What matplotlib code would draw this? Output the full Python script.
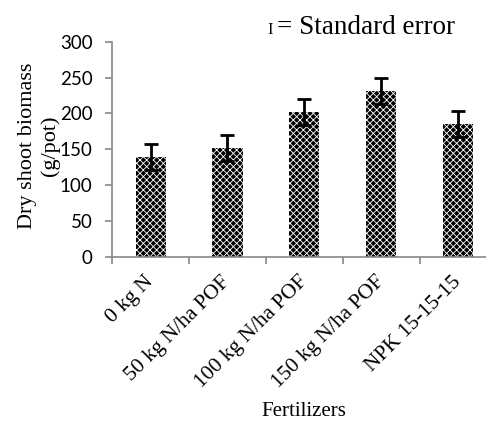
import matplotlib
matplotlib.use("Agg")
import matplotlib.pyplot as plt
import numpy as np

# data
fertilizers = ["0 kg N", "50 kg N/ha POF", "100 kg N/ha POF",
               "150 kg N/ha POF", "NPK 15-15-15"]
biomass = [139, 152, 202, 231, 185]
std_err = [18, 18, 18, 18, 18]
y_ticks = [0, 50, 100, 150, 200, 250, 300]

plt.rcParams["hatch.linewidth"] = 0.6
plt.rcParams["hatch.color"] = "white"

fig = plt.figure(figsize=(4.86, 4.22), dpi=100)
ax = fig.add_axes([0.2305, 0.3917, 0.792, 0.5095])

x = np.arange(len(fertilizers))
ax.bar(x, biomass, width=0.39, color="black", edgecolor="white",
       linewidth=0, hatch="xxxxx")
ax.errorbar(x, biomass, yerr=std_err, fmt="none", ecolor="black",
            elinewidth=2, capsize=5, capthick=2)

ax.set_xlim(-0.5, len(fertilizers) - 0.5)
ax.set_ylim(0, 300)
ax.set_yticks(y_ticks)
ax.set_yticklabels([str(v) for v in y_ticks], family="Lato", fontsize=13.5)

ax.set_xticks(x)
ax.set_xticklabels(fertilizers, rotation=45, ha="right", va="center",
                   rotation_mode="anchor", family="Liberation Serif",
                   fontsize=15.5)
ax.set_xticks(np.arange(-0.5, len(fertilizers), 1), minor=True)
ax.tick_params(axis="x", which="major", length=0, pad=16)
ax.tick_params(axis="x", which="minor", length=5, color="#888888", width=1.2)
ax.tick_params(axis="y", length=5, color="#888888", width=1.2, pad=9)

for s in ["top", "right"]:
    ax.spines[s].set_visible(False)
for s in ["left", "bottom"]:
    ax.spines[s].set_color("#888888")
    ax.spines[s].set_linewidth(1.2)

fig.text(39 / 486, 1 - 146 / 422, "Dry shoot biomass\n(g/pot)",
         family="Liberation Serif", fontsize=16, rotation=90,
         ha="center", va="center", multialignment="center", linespacing=1.2)
fig.text(304 / 486, 1 - 411 / 422, "Fertilizers", family="Liberation Serif",
         fontsize=15, ha="center", va="center")

fig.text(267 / 486, 1 - 34 / 422, "I", family="Liberation Serif",
         fontsize=12, ha="left", va="baseline")
fig.text(277 / 486, 1 - 34 / 422, "= Standard error", family="Liberation Serif",
         fontsize=19.5, ha="left", va="baseline")

fig.savefig("out.png", dpi=100)
